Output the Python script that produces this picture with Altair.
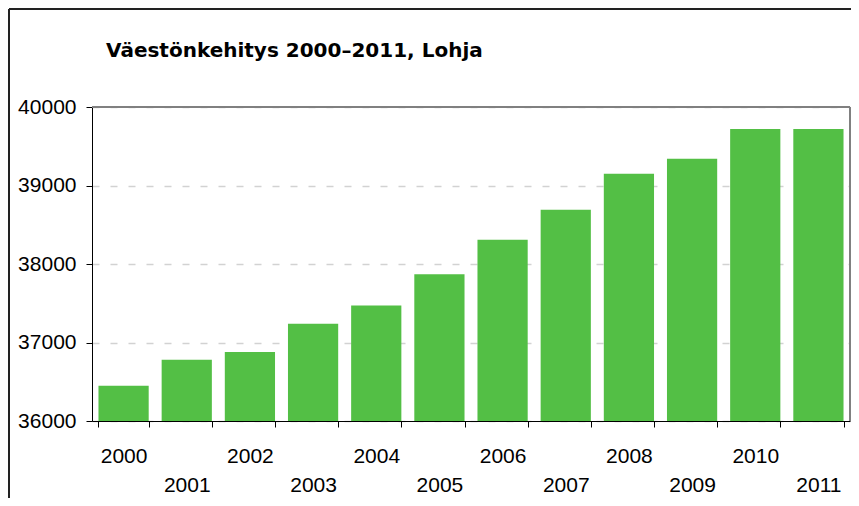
import altair as alt
import pandas as pd

# ---- data ----
years = ["2000", "2001", "2002", "2003", "2004", "2005",
         "2006", "2007", "2008", "2009", "2010", "2011"]
population = [36450, 36780, 36880, 37240, 37470, 37870,
              38310, 38690, 39150, 39340, 39720, 39720]
y_ticks = [36000, 37000, 38000, 39000, 40000]
y_min, y_max = 36000, 40000
title_text = "Väestönkehitys 2000–2011, Lohja"

df = pd.DataFrame({"year": years, "population": population})

W, H = 758, 314
PAD_L, PAD_T, PAD_R, PAD_B = 84, 99, 1, 77

bars = alt.Chart(df).mark_bar(color="#53BF45").encode(
    x=alt.X(
        "year:O",
        sort=years,
        scale=alt.Scale(paddingInner=0.205, paddingOuter=0.1025),
        axis=alt.Axis(
            title=None,
            labelAngle=0,
            tickBand="extent",
            grid=False,
            labelPadding={"condition": {"test": "toNumber(datum.value) % 2 == 1", "value": 47},
                          "value": 18},
        ),
    ),
    y=alt.Y(
        "population:Q",
        scale=alt.Scale(domain=[y_min, y_max], nice=False, zero=False),
        axis=alt.Axis(
            title=None,
            values=y_ticks,
            format="d",
            grid=True,
            gridDash=[7, 11],
            gridColor="#d2d2d2",
            gridWidth=1.5,
            labelPadding=10,
        ),
    ),
    y2=alt.datum(y_min),
)

one = pd.DataFrame({"k": [0]})

top_border = alt.Chart(one).mark_rule(color="#808080", strokeWidth=2).encode(
    x=alt.value(0), x2=alt.value(W), y=alt.value(0)
)
right_border = alt.Chart(one).mark_rule(color="#808080", strokeWidth=2).encode(
    x=alt.value(W), y=alt.value(0), y2=alt.value(H)
)
frame_top = alt.Chart(one).mark_rule(color="#222222", strokeWidth=2).encode(
    x=alt.value(-PAD_L + 1), x2=alt.value(W + PAD_R), y=alt.value(-PAD_T + 1)
)
frame_left = alt.Chart(one).mark_rule(color="#222222", strokeWidth=2).encode(
    x=alt.value(-PAD_L + 1), y=alt.value(-PAD_T + 1), y2=alt.value(H + PAD_B)
)

chart = alt.layer(bars, top_border, right_border, frame_top, frame_left).properties(
    width=W,
    height=H,
    background="white",
    autosize=alt.AutoSizeParams(type="none"),
    padding={"left": PAD_L, "top": PAD_T, "right": PAD_R, "bottom": PAD_B},
    title=alt.TitleParams(
        text=title_text,
        anchor="start",
        frame="group",
        font="DejaVu Sans",
        fontSize=20,
        fontWeight="bold",
        color="black",
        dx=14,
        offset=0,
        dy=53,
    ),
).configure_view(
    stroke=None
).configure_axis(
    labelFont="Liberation Sans",
    labelFontSize=21,
    labelColor="black",
    domainColor="black",
    domainWidth=1,
    tickColor="black",
    tickSize=6,
    tickWidth=1,
)

chart.save("out.html", embed_options={"renderer": "svg", "actions": False})
